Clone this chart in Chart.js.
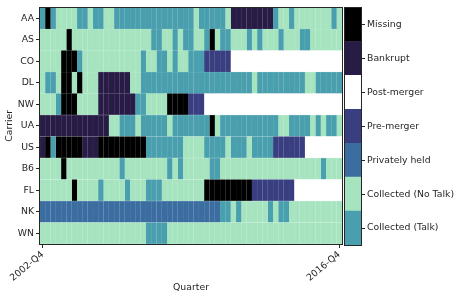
<!DOCTYPE html>
<html>
<head>
<meta charset="utf-8">
<script src="https://cdn.jsdelivr.net/npm/chart.js@4/dist/chart.umd.min.js"></script>
<style>
  html, body { margin: 0; padding: 0; background: #ffffff; }
  #wrap { position: relative; width: 457px; height: 299px; }
  #main { position: absolute; left: 0; top: 0; }
  #cbar { position: absolute; left: 344px; top: 0; }
</style>
</head>
<body>
<div id="wrap">
  <canvas id="main" width="457" height="299"></canvas>
  <canvas id="cbar" width="113" height="299"></canvas>
</div>
<script>
// ---- categories ----
const carriers = ['AA', 'AS', 'CO', 'DL', 'NW', 'UA', 'US', 'B6', 'FL', 'NK', 'WN'];
const quarters = [
  '2002-Q4',
  '2003-Q1', '2003-Q2', '2003-Q3', '2003-Q4',
  '2004-Q1', '2004-Q2', '2004-Q3', '2004-Q4',
  '2005-Q1', '2005-Q2', '2005-Q3', '2005-Q4',
  '2006-Q1', '2006-Q2', '2006-Q3', '2006-Q4',
  '2007-Q1', '2007-Q2', '2007-Q3', '2007-Q4',
  '2008-Q1', '2008-Q2', '2008-Q3', '2008-Q4',
  '2009-Q1', '2009-Q2', '2009-Q3', '2009-Q4',
  '2010-Q1', '2010-Q2', '2010-Q3', '2010-Q4',
  '2011-Q1', '2011-Q2', '2011-Q3', '2011-Q4',
  '2012-Q1', '2012-Q2', '2012-Q3', '2012-Q4',
  '2013-Q1', '2013-Q2', '2013-Q3', '2013-Q4',
  '2014-Q1', '2014-Q2', '2014-Q3', '2014-Q4',
  '2015-Q1', '2015-Q2', '2015-Q3', '2015-Q4',
  '2016-Q1', '2016-Q2', '2016-Q3', '2016-Q4'
];
const statusNames = ['Collected (Talk)', 'Collected (No Talk)', 'Privately held', 'Pre-merger', 'Post-merger', 'Bankrupt', 'Missing'];
const statusColors = ['#4a9fae', '#a6e4bf', '#3b6da0', '#383e80', '#ffffff', '#281b45', '#000000'];
const xTickLabels = ['2002-Q4', '2016-Q4'];

// ---- status codes per quarter (index into statusNames) ----
const AA = [0,6,0,1,1,1,1,0,0,1, 0,0,1,1,0,0,0,0,0,0, 0,0,0,0,0,0,0,0,0,1, 0,0,0,0,0,1,5,5,5,5, 5,5,5,5,0,1,1,0,1,1, 1,1,1,1,1,0,1];
const AS = [1,1,1,1,1,6,1,1,1,1, 1,1,1,1,1,1,1,1,1,1, 1,0,0,1,1,0,1,0,0,1, 1,0,6,1,0,0,1,1,1,0, 1,0,1,1,1,0,1,1,1,0, 0,1,1,1,1,1,1];
const CO = [1,1,1,1,6,6,6,0,1,1, 1,1,1,1,1,1,1,1,1,0, 1,1,0,0,1,0,1,1,0,0, 0,3,3,3,3,3,4,4,4,4, 4,4,4,4,4,4,4,4,4,4, 4,4,4,4,4,4,4];
const DL = [1,0,0,1,6,6,1,6,1,1, 1,5,5,5,5,5,5,1,1,0, 0,0,0,0,0,0,0,0,0,0, 0,0,0,0,0,0,0,0,0,0, 1,0,0,0,0,0,0,0,0,0, 1,1,0,0,0,0,0];
const NW = [1,1,1,0,6,6,6,1,1,1, 1,5,5,5,5,5,5,5,0,0, 1,1,1,1,6,6,6,6,3,3, 3,4,4,4,4,4,4,4,4,4, 4,4,4,4,4,4,4,4,4,4, 4,4,4,4,4,4,4];
const UA = [5,5,5,5,5,5,5,5,5,5, 5,5,5,1,1,0,0,0,1,0, 0,0,0,0,1,0,0,0,0,0, 0,0,6,1,0,0,0,0,0,0, 0,0,0,0,0,1,1,0,0,0, 0,1,0,1,0,0,1];
const US = [5,6,0,6,6,6,6,6,5,5, 5,6,6,6,6,6,6,6,6,6, 0,0,0,0,0,0,0,1,1,1, 1,0,0,0,0,1,0,0,0,1, 0,0,0,0,3,3,3,3,3,3, 4,4,4,4,4,4,4];
const B6 = [1,1,1,1,6,1,1,1,1,1, 1,1,1,1,1,0,1,1,1,1, 1,1,1,1,0,1,0,1,1,1, 1,1,0,0,1,1,1,1,1,1, 1,1,1,1,1,1,1,1,1,1, 1,1,1,0,1,1,1];
const FL = [1,1,1,1,1,1,6,1,1,1, 1,0,1,1,1,1,0,1,1,1, 0,0,0,1,1,1,1,1,1,1, 1,6,6,6,6,6,6,6,6,6, 3,3,3,3,3,3,3,3,4,4, 4,4,4,4,4,4,4];
const NK = [2,2,2,2,2,2,2,2,2,2, 2,2,2,2,2,2,2,2,2,2, 2,2,2,2,2,2,2,2,2,2, 2,2,2,2,0,0,1,0,1,1, 1,1,1,0,1,0,0,1,1,1, 1,1,1,1,1,1,1];
const WN = [1,1,1,1,1,1,1,1,1,1, 1,1,1,1,1,1,1,1,1,1, 0,0,0,0,1,1,1,1,1,1, 1,1,1,1,1,1,1,1,1,1, 1,1,1,1,1,1,1,1,1,1, 1,1,1,1,1,1,1];
const statusByCarrier = [AA, AS, CO, DL, NW, UA, US, B6, FL, NK, WN];

// ---- shared style ----
const FONT = { family: 'DejaVu Sans', size: 9.3 };
const INK = '#262626';

function lighten(hex, f) {
  const n = parseInt(hex.slice(1), 16);
  const r = (n >> 16) & 255, g = (n >> 8) & 255, b = n & 255;
  const m = c => Math.round(c + (255 - c) * f);
  return 'rgb(' + m(r) + ',' + m(g) + ',' + m(b) + ')';
}

const framePlugin = {
  id: 'frame',
  afterDraw(chart) {
    const a = chart.chartArea, ctx = chart.ctx;
    ctx.save();
    ctx.strokeStyle = INK;
    ctx.lineWidth = 1;
    ctx.strokeRect(Math.round(a.left) - 0.5, Math.round(a.top) - 0.5,
                   Math.round(a.right - a.left) + 1, Math.round(a.bottom - a.top) + 1);
    ctx.restore();
  }
};

// ---- heatmap: one stacked dataset per quarter, each cell one quarter wide ----
const datasets = quarters.map((q, qi) => ({
  label: q,
  data: carriers.map(() => 1),
  backgroundColor: statusByCarrier.map(row => statusColors[row[qi]]),
  borderColor: statusByCarrier.map(row => lighten(statusColors[row[qi]], 0.3)),
  borderWidth: { top: 0.5, bottom: 0.5, left: 0.4, right: 0 },
  borderSkipped: false,
  barPercentage: 1,
  categoryPercentage: 1,
  stack: 'timeline'
}));

new Chart(document.getElementById('main'), {
  type: 'bar',
  data: { labels: carriers, datasets },
  options: {
    responsive: false,
    animation: false,
    indexAxis: 'y',
    layout: { padding: { left: 0, right: 115, top: 6, bottom: 0 } },
    plugins: { legend: { display: false }, tooltip: { enabled: false } },
    scales: {
      x: {
        type: 'linear',
        stacked: true,
        min: 0,
        max: quarters.length,
        afterBuildTicks: s => { s.ticks = [0.5, quarters.length - 0.5].map(v => ({ value: v })); },
        afterFit: s => { s.height = 55; },
        ticks: {
          autoSkip: false,
          callback: (v, i) => xTickLabels[i],
          maxRotation: 40,
          minRotation: 40,
          font: FONT,
          color: INK,
          padding: 1
        },
        grid: { display: true, drawOnChartArea: false, drawTicks: true, tickLength: 4, color: INK },
        border: { display: false },
        title: { display: true, text: 'Quarter', font: FONT, color: INK, padding: { top: 0, bottom: 6 } }
      },
      y: {
        type: 'category',
        stacked: true,
        afterFit: s => { s.width = 40; },
        ticks: { font: FONT, color: INK, padding: 2 },
        grid: { display: true, offset: false, drawOnChartArea: false, drawTicks: true, tickLength: 4, color: INK },
        border: { display: false },
        title: { display: true, text: 'Carrier', font: FONT, color: INK, padding: { top: 4, bottom: 0 } }
      }
    }
  },
  plugins: [framePlugin]
});

// ---- colour bar ----
const legendOrder = [6, 5, 4, 3, 2, 1, 0];
new Chart(document.getElementById('cbar'), {
  type: 'bar',
  data: {
    labels: legendOrder.map(i => statusNames[i]),
    datasets: [{
      data: legendOrder.map(() => 1),
      backgroundColor: legendOrder.map(i => statusColors[i]),
      borderWidth: 0,
      barPercentage: 1,
      categoryPercentage: 1
    }]
  },
  options: {
    responsive: false,
    animation: false,
    indexAxis: 'y',
    layout: { padding: { left: 1, right: 0, top: 6, bottom: 54 } },
    plugins: { legend: { display: false }, tooltip: { enabled: false } },
    scales: {
      x: { display: false, min: 0, max: 1 },
      y: {
        position: 'right',
        afterFit: s => { s.width = 96; },
        ticks: { font: FONT, color: INK, padding: 2 },
        grid: { display: true, offset: false, drawOnChartArea: false, drawTicks: true, tickLength: 4, color: INK },
        border: { display: false }
      }
    }
  },
  plugins: [framePlugin]
});
</script>
</body>
</html>
